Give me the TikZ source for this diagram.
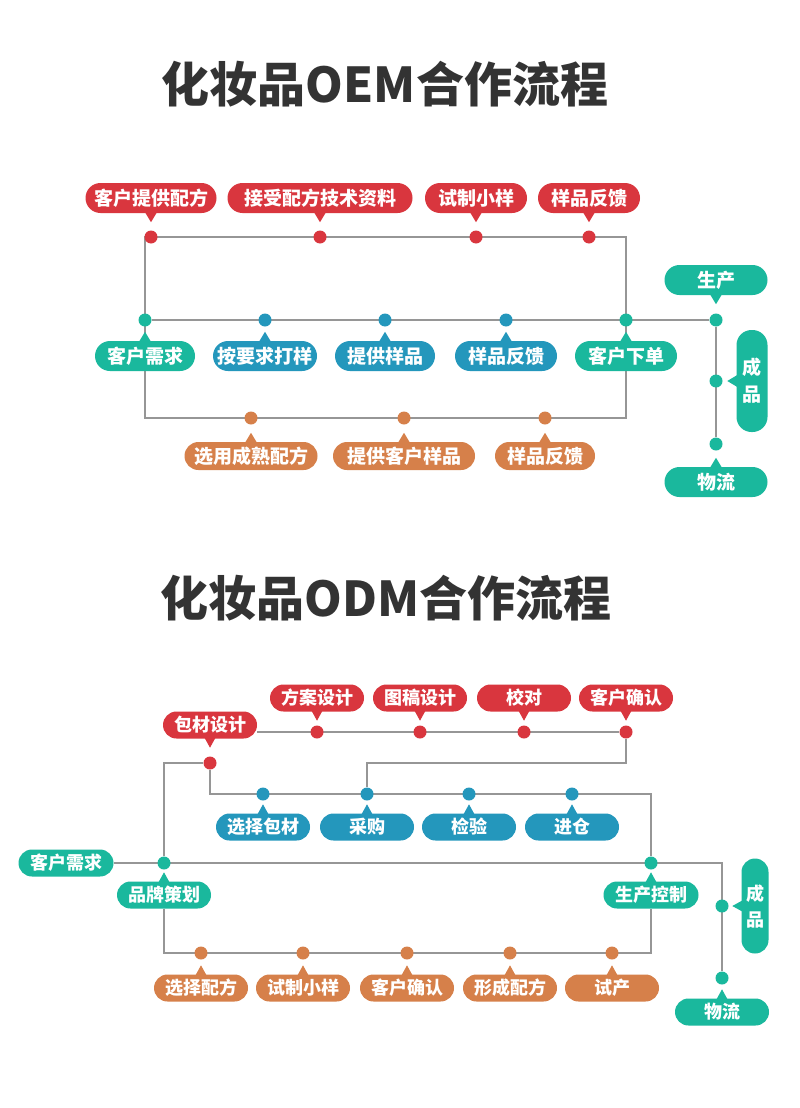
\documentclass[tikz,border=0pt]{standalone}
\usepackage{fontspec}
\setmainfont{Noto Sans CJK SC}
\usetikzlibrary{backgrounds}

\definecolor{tagred}{RGB}{217,54,62}
\definecolor{tagteal}{RGB}{26,184,157}
\definecolor{tagblue}{RGB}{36,151,188}
\definecolor{tagorange}{RGB}{214,128,74}
\definecolor{wiregray}{RGB}{150,150,150}
\definecolor{titlegray}{RGB}{51,51,51}

\tikzset{
  tag/.style={rectangle, rounded corners=13.5pt, text=white, inner xsep=4pt, inner ysep=0pt,
    minimum height=27pt, font=\bfseries\fontsize{18}{26}\selectfont},
  big tag/.style={tag, rounded corners=15pt, minimum height=30pt, font=\bfseries\fontsize{19}{27}\selectfont},
  dot/.style={circle, inner sep=0pt, minimum size=13pt},
  wire/.style={draw=wiregray, line width=1.5pt},
  headline/.style={font=\bfseries\fontsize{48}{48}\selectfont, text=titlegray}
}

\begin{document}
\begin{tikzpicture}[x=1pt, y=-1pt]
\useasboundingbox (0,0) rectangle (800,1108);

% OEM flow
\node[headline] (oem title) at (385,84) {化妆品OEM合作流程};

% red row
\foreach \n/\x/\w/\t in {oa/151/131/客户提供配方, ob/320/185/接受配方技术资料, oc/476/102/试制小样, od/589/102/样品反馈}{
  \node[big tag, fill=tagred, minimum width=\w] (\n) at (\x,198) {\t};
  \fill[tagred] ([yshift=1pt]\n.south) ++(-6,0) -- ++(12,0) -- ++(-6,10) -- cycle;
  \node[dot, fill=tagred] (\n-d) at (\x,237) {};
}

% middle row
\foreach \n/\x/\w/\c/\t in {oe/145/100/tagteal/客户需求, of/265/104/tagblue/按要求打样, og/385/100/tagblue/提供样品, oh/506/102/tagblue/样品反馈, oi/626/102/tagteal/客户下单}{
  \node[big tag, fill=\c, minimum width=\w] (\n) at (\x,356) {\t};
  \fill[\c] ([yshift=-1pt]\n.north) ++(-6,0) -- ++(12,0) -- ++(-6,-10) -- cycle;
  \node[dot, fill=\c] (\n-d) at (\x,320) {};
}

% orange row
\foreach \n/\x/\w/\t in {om/251/133/选用成熟配方, on/404/142/提供客户样品, oo/545/100/样品反馈}{
  \node[big tag, minimum height=28pt, rounded corners=14pt, fill=tagorange, minimum width=\w] (\n) at (\x,456) {\t};
  \fill[tagorange] ([yshift=-1pt]\n.north) ++(-6,0) -- ++(12,0) -- ++(-6,-10) -- cycle;
  \node[dot, fill=tagorange] (\n-d) at (\x,418) {};
}

% production side
\node[big tag, fill=tagteal, minimum width=103] (oj) at (716,280) {生产};
\fill[tagteal] ([yshift=1pt]oj.south) ++(-6,0) -- ++(12,0) -- ++(-6,10) -- cycle;
\node[dot, fill=tagteal] (oj-d) at (716,320) {};
\node[big tag, fill=tagteal, minimum width=31, minimum height=102, align=center] (ok) at (752,381) {成\\品};
\fill[tagteal] ([xshift=1pt]ok.west) ++(0,-6) -- ++(0,12) -- ++(-10,-6) -- cycle;
\node[dot, fill=tagteal] (ok-d) at (716,381) {};
\node[big tag, fill=tagteal, minimum width=103] (ol) at (716,482) {物流};
\fill[tagteal] ([yshift=-1pt]ol.north) ++(-6,0) -- ++(12,0) -- ++(-6,-10) -- cycle;
\node[dot, fill=tagteal] (ol-d) at (716,444) {};

\begin{scope}[on background layer]
\fill[white] (0,0) rectangle (800,1108);
\draw[wire] (oe-d |- oa-d) rectangle (oi-d |- om-d);
\draw[wire] (oe-d) -- (oj-d) -- (ol-d);
\end{scope}

% ODM flow
\node[headline] (odm title) at (386,598) {化妆品ODM合作流程};

% red row
\foreach \n/\x/\t in {da/317/方案设计, db/420/图稿设计, dc/524/校对, dd/626/客户确认}{
  \node[tag, fill=tagred, minimum width=94] (\n) at (\x,698) {\t};
  \fill[tagred] ([yshift=1pt]\n.south) ++(-5.5,0) -- ++(11,0) -- ++(-5.5,10) -- cycle;
  \node[dot, fill=tagred] (\n-d) at (\x,732) {};
}
\node[tag, fill=tagred, minimum width=94] (de) at (210,725) {包材设计};
\fill[tagred] ([yshift=1pt]de.south) ++(-5.5,0) -- ++(11,0) -- ++(-5.5,10) -- cycle;
\node[dot, fill=tagred] (de-d) at (210,763) {};

% blue row
\foreach \n/\x/\t in {df/263/选择包材, dg/367/采购, dh/469/检验, di/572/进仓}{
  \node[tag, fill=tagblue, minimum width=94] (\n) at (\x,827) {\t};
  \fill[tagblue] ([yshift=-1pt]\n.north) ++(-5.5,0) -- ++(11,0) -- ++(-5.5,-10) -- cycle;
  \node[dot, fill=tagblue] (\n-d) at (\x,794) {};
}

% teal row
\node[tag, fill=tagteal, minimum width=95] (dj) at (66,863) {客户需求};
\node[tag, fill=tagteal, minimum width=94] (dk) at (164,895) {品牌策划};
\fill[tagteal] ([yshift=-1pt]dk.north) ++(-5.5,0) -- ++(11,0) -- ++(-5.5,-10) -- cycle;
\node[dot, fill=tagteal] (dk-d) at (164,863) {};
\node[tag, fill=tagteal, minimum width=95] (dl) at (651,895) {生产控制};
\fill[tagteal] ([yshift=-1pt]dl.north) ++(-5.5,0) -- ++(11,0) -- ++(-5.5,-10) -- cycle;
\node[dot, fill=tagteal] (dl-d) at (651,863) {};
\node[tag, fill=tagteal, minimum width=27, minimum height=95, align=center] (dm) at (755,906) {成\\品};
\fill[tagteal] ([xshift=1pt]dm.west) ++(0,-5.5) -- ++(0,11) -- ++(-10,-5.5) -- cycle;
\node[dot, fill=tagteal] (dm-d) at (722,906) {};
\node[tag, fill=tagteal, minimum width=94] (dn) at (722,1012) {物流};
\fill[tagteal] ([yshift=-1pt]dn.north) ++(-5.5,0) -- ++(11,0) -- ++(-5.5,-10) -- cycle;
\node[dot, fill=tagteal] (dn-d) at (722,978) {};

% orange row
\foreach \n/\x/\t in {do/201/选择配方, dp/303/试制小样, dq/407/客户确认, dr/510/形成配方, ds/612/试产}{
  \node[tag, fill=tagorange, minimum width=94] (\n) at (\x,988) {\t};
  \fill[tagorange] ([yshift=-1pt]\n.north) ++(-5.5,0) -- ++(11,0) -- ++(-5.5,-10) -- cycle;
  \node[dot, fill=tagorange] (\n-d) at (\x,953) {};
}

\begin{scope}[on background layer]
\draw[wire] (de.east |- da-d) -- (dd-d) -- (dd-d |- de-d) -- (dg-d |- de-d) -- (dg-d);
\draw[wire] (dk-d) -- (dk-d |- de-d) -- (de-d) -- (de-d |- df-d) -- (dl-d |- df-d) -- (dl-d);
\draw[wire] (dj) -- (dm-d |- dj) -- (dn-d);
\draw[wire] (dk.south) -- (dk.south |- do-d) -- (dl.south |- do-d) -- (dl.south);
\end{scope}
\end{tikzpicture}
\end{document}
